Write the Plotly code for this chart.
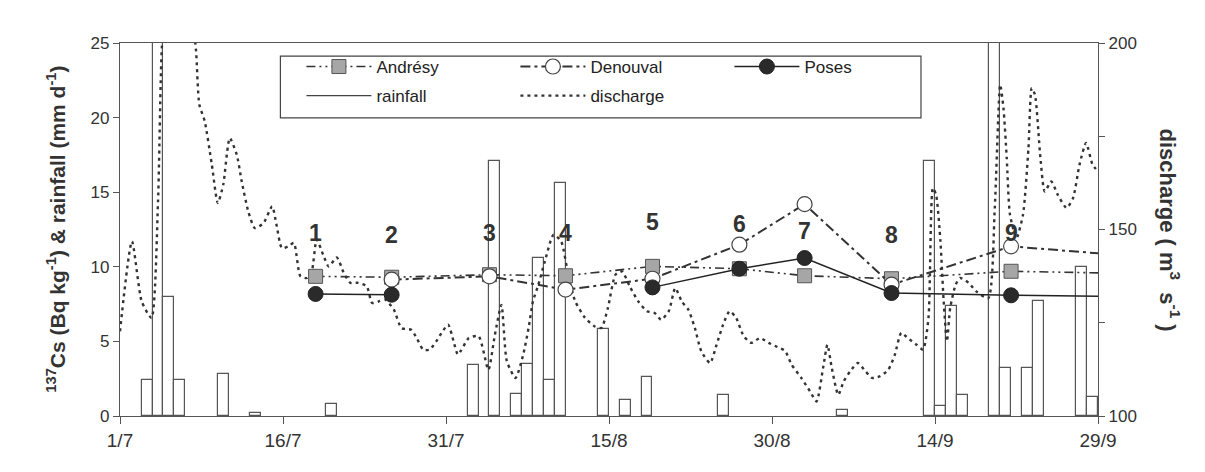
import datetime as dt
import plotly.graph_objects as go

# ---------------- data ----------------
START = dt.date(2000, 7, 1)


def day(s):
    d, m = s.split("/")
    return (dt.date(2000, int(m), int(d)) - START).days


tick_labels = ["1/7", "16/7", "31/7", "15/8", "30/8", "14/9", "29/9"]

# daily rainfall (mm d-1)
rain_dates = ["3/7", "4/7", "5/7", "6/7", "10/7", "13/7", "20/7", "2/8", "4/8", "6/8",
              "7/8", "8/8", "9/8", "10/8", "14/8", "16/8", "18/8", "25/8", "5/9", "13/9",
              "14/9", "15/9", "16/9", "19/9", "20/9", "22/9", "23/9", "27/9", "28/9"]
rain_mm = [2.4, 29.0, 8.0, 2.4, 2.8, 0.2, 0.8, 3.4, 17.1, 1.5,
           3.5, 10.6, 2.4, 15.6, 5.8, 1.1, 2.6, 1.4, 0.4, 17.1,
           0.7, 7.4, 1.4, 29.0, 3.2, 3.2, 7.7, 10.0, 1.3]

# discharge (m3 s-1), days after 1/7
discharge_day = [0, 1.1, 2.0, 2.9, 3.5, 3.85, 4.5, 5.5, 6.5, 7.0, 7.3, 7.8, 8.45, 9.0, 9.5,
                 10.1, 10.75, 11.2, 11.8, 12.4, 13.2, 14.0, 14.4, 14.9, 15.5, 16.0, 16.6,
                 17.2, 17.65, 18.1, 18.7, 19.2, 19.95, 20.6, 21.2, 21.9, 22.7, 23.2, 23.8,
                 24.4, 25.2, 25.9, 26.8, 27.3, 27.9, 28.5, 29.1, 29.6, 30.2, 30.7, 31.1,
                 32.1, 33.0, 33.9, 34.5, 35.1, 35.6, 36.4, 37.1, 37.6, 38.0, 38.5, 39.1,
                 39.9, 40.6, 41.3, 41.9, 42.8, 43.7, 44.3, 44.9, 45.6, 46.2, 46.9, 47.7,
                 48.5, 49.2, 49.8, 50.5, 51.1, 51.7, 52.3, 52.9, 53.5, 54.3, 54.9, 55.5,
                 56.1, 56.7, 57.4, 58.1, 58.9, 59.7, 60.5, 61.2, 61.8, 62.7, 63.5, 64.1,
                 64.7, 65.1, 65.5, 66.1, 66.6, 67.2, 67.9, 68.6, 69.2, 69.9, 70.7, 71.3,
                 71.9, 72.5, 73.3, 73.9, 74.4, 74.8, 75.1, 75.5, 75.8, 76.1, 76.4, 76.9,
                 77.3, 78.1, 78.8, 79.9, 80.5, 81.0, 81.3, 81.6, 81.9, 82.5, 83.1, 83.6,
                 83.9, 84.2, 84.7, 85.1, 85.7, 86.3, 87.1, 87.7, 88.3, 88.9, 89.5, 90.0]
discharge_q = [122.7, 146.8, 130.7, 126.3, 157.6, 198.7, 220, 230, 212, 197.8, 183.5, 179,
               167.4, 157.1, 162, 174.5, 170, 162.9, 154.9, 150.4, 151.7, 156.2, 151.3, 145,
               145.5, 146.4, 137.5, 137, 138.8, 147.3, 143.2, 140.1, 142.5, 138.3, 135.7,
               135.7, 134.8, 130.3, 130.7, 131.2, 128.5, 123.6, 123.1, 120.9, 117.8, 117.8,
               120, 122.3, 124.5, 120, 116.5, 120.9, 121.4, 112.4, 121.8, 129.8, 114.7, 110.2,
               116.4, 123.6, 130.7, 135.2, 141.5, 148.6, 146.8, 137, 130.7, 126.3, 124, 123.6,
               129, 137.9, 138.8, 134.8, 130.7, 128.1, 127.6, 125.8, 128.1, 134.3, 130.7,
               128.5, 123.6, 117.3, 114.2, 119.1, 124.5, 128.1, 126.3, 121.4, 119.6, 120.9,
               119.6, 118.5, 117.5, 113.8, 110.2, 106.6, 103.9, 112.9, 119.1, 112.9, 105.7,
               109.3, 112, 114.2, 112, 110.2, 110.6, 112.4, 116.4, 122.3, 120.9, 119.1, 117.8,
               126.3, 161.1, 159.3, 146.8, 130.7, 120, 129, 135.2, 137, 135.7, 133.4, 131.6,
               155.8, 188.8, 182.6, 169.2, 154, 147.7, 154, 171.8, 187.9, 186.1, 169.2, 160.2,
               162.9, 159.3, 155.8, 158.4, 167.4, 173.2, 167.4, 165.6]

# 137Cs activity (Bq kg-1) at the sampling events
event_dates = ["19/7", "26/7", "4/8", "11/8", "19/8", "27/8", "2/9", "10/9", "21/9", "6/10"]
event_labels = ["1", "2", "3", "4", "5", "6", "7", "8", "9"]
andresy = [9.36, 9.3, 9.47, 9.4, 10.03, 9.87, 9.4, 9.2, 9.7, 9.5]
denouval = [None, 9.14, 9.36, 8.47, 9.2, 11.48, 14.2, 8.8, 11.37, 10.5]
poses = [8.18, 8.13, None, None, 8.62, 9.87, 10.59, 8.24, 8.09, 7.98]
label_y = [12.26, 12.15, 12.26, 12.26, 13.0, 12.87, 12.43, 12.15, 12.26]

# ---------------- figure ----------------
FONT = "Liberation Sans, Arial, sans-serif"
INK = "#333333"

rain_x = [day(s) for s in rain_dates]
ev_x = [day(s) for s in event_dates]
tick_vals = [day(s) for s in tick_labels]

fig = go.Figure()

fig.add_trace(go.Bar(
    x=rain_x, y=rain_mm, width=1, offset=0, yaxis="y",
    marker=dict(color="rgba(0,0,0,0)", line=dict(color="#555555", width=1.2)),
    showlegend=False, legendgroup="rain", name="rainfall", hoverinfo="x+y",
))
fig.add_trace(go.Scatter(
    x=[None], y=[None], mode="lines", name="rainfall", legendgroup="rain",
    line=dict(color="#444444", width=1.2), legend="legend2",
))
fig.add_trace(go.Scatter(
    x=discharge_day, y=discharge_q, yaxis="y2", mode="lines", name="discharge",
    line=dict(color="#333333", width=2.4, dash="3px,4px", shape="spline", smoothing=0.6),
    legend="legend2",
))
fig.add_trace(go.Scatter(
    x=ev_x, y=andresy, yaxis="y3", mode="lines+markers", name="Andrésy",
    line=dict(color="#333333", width=1.6, dash="9px,4px,2px,4px,2px,4px"),
    marker=dict(symbol="square", size=14, color="#a6a6a6", line=dict(color="#555555", width=1)),
))
fig.add_trace(go.Scatter(
    x=ev_x, y=denouval, yaxis="y3", mode="lines+markers", name="Denouval",
    line=dict(color="#333333", width=2, dash="10px,4px,3px,4px"),
    marker=dict(symbol="circle", size=15, color="white", line=dict(color="#444444", width=1.2)),
))
fig.add_trace(go.Scatter(
    x=ev_x, y=poses, yaxis="y3", mode="lines+markers", name="Poses", connectgaps=False,
    line=dict(color="#222222", width=1.5),
    marker=dict(symbol="circle", size=15, color="#2a2a2a", line=dict(color="#222222", width=1)),
))

annotations = []
for xv, yv, t in zip(ev_x, label_y, event_labels):
    annotations.append(dict(x=xv, y=yv, xref="x", yref="y", text="<b>%s</b>" % t,
                            showarrow=False, font=dict(family=FONT, size=23, color=INK)))
annotations.append(dict(
    x=-0.0816, y=0.5, xref="paper", yref="paper", textangle=-90, showarrow=False,
    text="<b><sup>137</sup>Cs (Bq kg<sup>-1</sup>) &amp; rainfall (mm d<sup>-1</sup>)</b>",
    font=dict(family=FONT, size=21, color=INK)))
annotations.append(dict(
    x=1.09, y=0.5, xref="paper", yref="paper", textangle=90, showarrow=False,
    text="<b>discharge ( m<sup>3</sup>  s<sup>-1</sup> )</b>",
    font=dict(family=FONT, size=22, color=INK)))

axis_line = dict(showline=True, linecolor="#555555", linewidth=1.2, showgrid=False,
                 zeroline=False, ticks="outside", tickcolor="#555555", tickwidth=1.2)

fig.update_layout(
    width=1205, height=472,
    margin=dict(l=111.5, r=115, t=35, b=64),
    paper_bgcolor="white", plot_bgcolor="white",
    font=dict(family=FONT, color=INK),
    bargap=0,
    xaxis=dict(range=[0, 90], tickvals=tick_vals, ticktext=tick_labels, mirror=True,
               ticklen=7, tickfont=dict(size=19, color=INK), **axis_line),
    yaxis=dict(range=[0, 25], dtick=5, ticklen=6, tickfont=dict(size=17, color=INK),
               **axis_line),
    yaxis2=dict(range=[100, 200], overlaying="y", side="right", tick0=100, dtick=50,
                ticklen=6, tickfont=dict(size=17, color=INK),
                minor=dict(dtick=25, ticks="outside", ticklen=6, tickcolor="#555555",
                           tickwidth=1.2, showgrid=False),
                **axis_line),
    yaxis3=dict(range=[0, 25], overlaying="y", visible=False),
    legend=dict(x=0.1855, y=0.984, xanchor="left", yanchor="top", orientation="h",
                itemwidth=65, entrywidth=134, entrywidthmode="pixels",
                font=dict(family=FONT, size=17, color="#222222"),
                bgcolor="rgba(0,0,0,0)", borderwidth=0, traceorder="normal"),
    legend2=dict(x=0.1855, y=0.906, xanchor="left", yanchor="top", orientation="h",
                 itemwidth=65, entrywidth=134, entrywidthmode="pixels",
                 font=dict(family=FONT, size=17, color="#222222"),
                 bgcolor="rgba(0,0,0,0)", borderwidth=0, traceorder="normal"),
    shapes=[dict(type="rect", xref="paper", yref="paper", x0=0.164, x1=0.819,
                 y0=0.799, y1=0.965, line=dict(color="#444444", width=1.2),
                 fillcolor="rgba(0,0,0,0)")],
    annotations=annotations,
    showlegend=True,
)

fig.write_html("out.html")
